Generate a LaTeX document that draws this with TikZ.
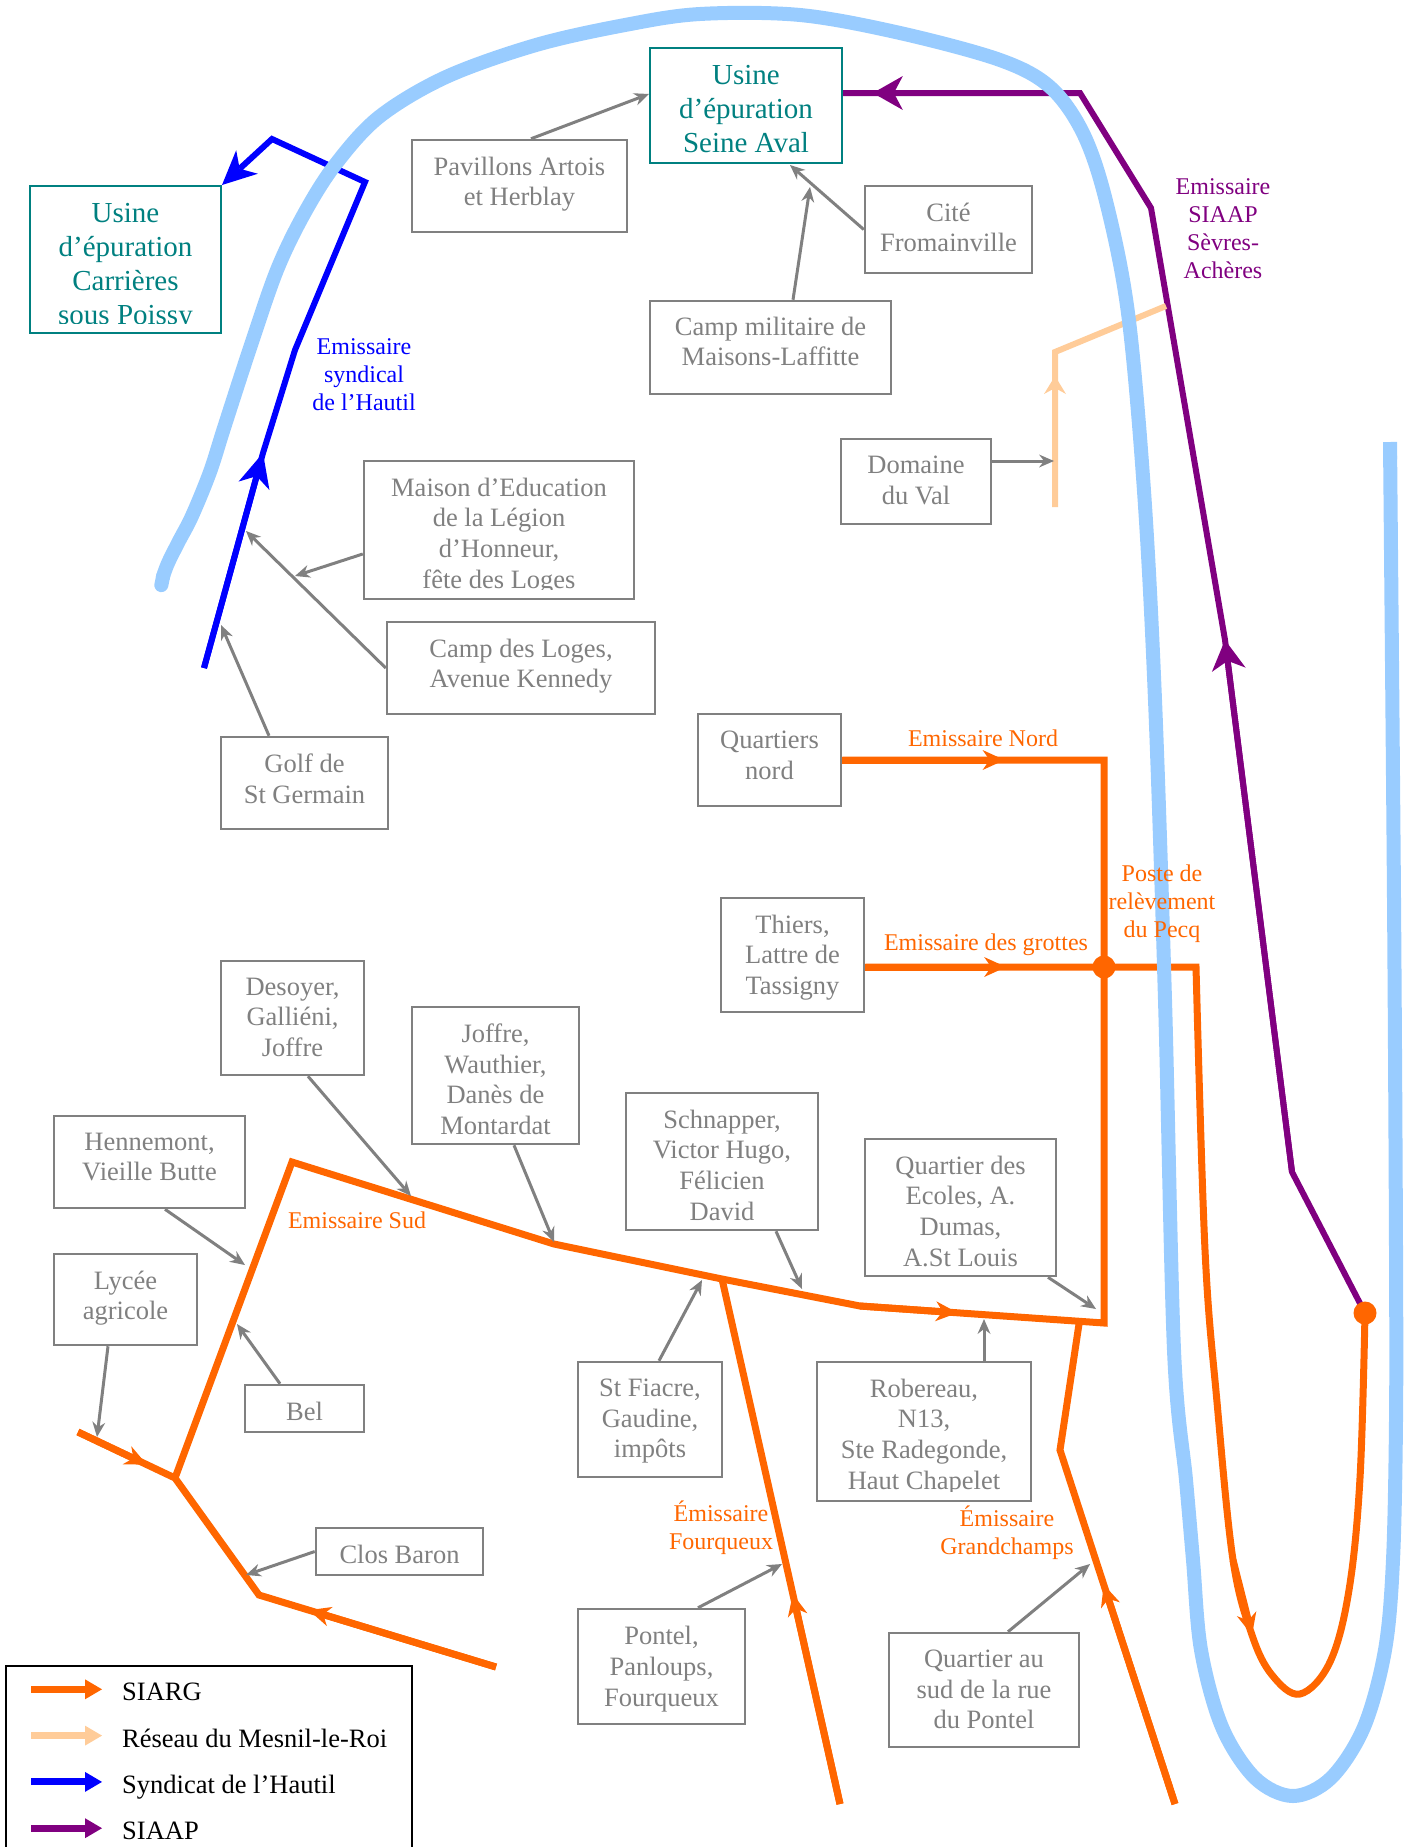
\documentclass[tikz,border=0pt]{standalone}
\usepackage{fontspec}
\setmainfont{Liberation Serif}
\usetikzlibrary{arrows.meta,calc}

\definecolor{siarg}{HTML}{FF6600}
\definecolor{mesnil}{HTML}{FFCC99}
\definecolor{hautil}{HTML}{0000FF}
\definecolor{siaap}{HTML}{800080}
\definecolor{seine}{HTML}{99CCFF}
\definecolor{usine}{HTML}{008080}
\definecolor{quartier}{HTML}{808080}

\newcommand\boxfont{\fontsize{26.5pt}{30.6pt}\selectfont}
\newcommand\usinefont{\fontsize{29pt}{34pt}\selectfont}
\newcommand\tagfont{\fontsize{24pt}{28pt}\selectfont}

\begin{document}
\begin{tikzpicture}[x=1pt,y=-1pt,
  quartier/.style={draw=quartier,line width=2.5pt,inner sep=0pt},
  qtext/.style={text=quartier,font=\boxfont,align=center,inner sep=0pt,anchor=north},
  usine/.style={draw=usine,line width=2pt,inner sep=0pt},
  utext/.style={text=usine,font=\usinefont,align=center,inner sep=0pt,anchor=north},
  feed/.style={draw=quartier,line width=3pt,-{Stealth[length=15pt,width=13pt,inset=5pt,line width=0pt]}},
  tag/.style={font=\tagfont,align=center,inner sep=0pt},
  siargline/.style={draw=siarg,line width=7pt},
  siargtip/.style={siargline,-{Stealth[length=22pt,width=20pt,inset=7pt,line width=0pt]}},
  hautilline/.style={draw=hautil,line width=6pt},
  hautiltip/.style={hautilline,-{Stealth[length=34pt,width=32pt,inset=10pt,line width=0pt]}},
  siaapline/.style={draw=siaap,line width=6pt},
  siaaptip/.style={siaapline,-{Stealth[length=30pt,width=34pt,inset=9pt,line width=0pt]}},
  mesnilline/.style={draw=mesnil,line width=6pt},
  mesniltip/.style={mesnilline,-{Stealth[length=18pt,width=22pt,inset=6pt,line width=0pt]}},
  seine/.style={draw=seine,line width=14pt}]
\useasboundingbox (0,0) rectangle (1407,1847);
%
\node[usine,minimum width=192pt,minimum height=115pt] (sav) at (746,105.5) {};
\node[utext] (savtext) at ([yshift=-17.8pt]sav.north) {Usine\\d’épuration\\Seine Aval};
\node[usine,minimum width=191pt,minimum height=147pt] (car) at (125.5,259.5) {};
\begin{scope}
\clip (car.north west) rectangle ([yshift=11pt]car.south east);
\node[utext] (cartext) at ([yshift=-17.8pt]car.north) {Usine\\d’épuration\\Carrières\\sous Poissy};
\end{scope}
%
\node[quartier,minimum width=215pt,minimum height=92pt] (pav) at (519.5,186) {};
\node[qtext] (pavtext) at ([yshift=-18pt]pav.north) {Pavillons Artois\\et Herblay};
\node[quartier,minimum width=167pt,minimum height=87pt] (cit) at (948.5,229.5) {};
\node[qtext] (cittext) at ([yshift=-18pt]cit.north) {Cité\\Fromainville};
\node[quartier,minimum width=241pt,minimum height=93pt] (cmi) at (770.5,347.5) {};
\node[qtext] (cmitext) at ([yshift=-17pt]cmi.north) {Camp militaire de\\Maisons-Laffitte};
\node[quartier,minimum width=150pt,minimum height=85pt] (dom) at (916,481.5) {};
\node[qtext] (domtext) at ([yshift=-18pt]dom.north) {Domaine\\du Val};
\node[quartier,minimum width=270pt,minimum height=138pt] (mai) at (499,530) {};
\begin{scope}
\clip (mai.north west) rectangle ([yshift=11pt]mai.south east);
\node[qtext] (maitext) at ([yshift=-18pt]mai.north) {Maison d’Education\\de la Légion\\d’Honneur,\\fête des Loges};
\end{scope}
\node[quartier,minimum width=268pt,minimum height=92pt] (log) at (521,668) {};
\node[qtext] (logtext) at ([yshift=-18pt]log.north) {Camp des Loges,\\Avenue Kennedy};
\node[quartier,minimum width=167pt,minimum height=92pt] (gol) at (304.5,783) {};
\node[qtext] (goltext) at ([yshift=-18pt]gol.north) {Golf de\\St Germain};
\node[quartier,minimum width=143pt,minimum height=92pt] (qno) at (769.5,760) {};
\node[qtext] (qnotext) at ([yshift=-18pt]qno.north) {Quartiers\\nord};
\node[quartier,minimum width=143pt,minimum height=114pt] (thi) at (792.5,955) {};
\node[qtext] (thitext) at ([yshift=-18pt]thi.north) {Thiers,\\Lattre de\\Tassigny};
\node[quartier,minimum width=143pt,minimum height=114pt] (des) at (292.5,1018) {};
\node[qtext] (destext) at ([yshift=-18pt]des.north) {Desoyer,\\Galliéni,\\Joffre};
\node[quartier,minimum width=167pt,minimum height=137pt] (jof) at (495.5,1075.5) {};
\node[qtext] (joftext) at ([yshift=-18pt]jof.north) {Joffre,\\Wauthier,\\Danès de\\Montardat};
\node[quartier,minimum width=192pt,minimum height=137pt] (sch) at (722,1161.5) {};
\node[qtext] (schtext) at ([yshift=-18pt]sch.north) {Schnapper,\\Victor Hugo,\\Félicien\\David};
\node[quartier,minimum width=191pt,minimum height=137pt] (eco) at (960.5,1207.5) {};
\node[qtext] (ecotext) at ([yshift=-18pt]eco.north) {Quartier des\\Ecoles, A.\\Dumas,\\A.St Louis};
\node[quartier,minimum width=191pt,minimum height=92pt] (hen) at (149.5,1162) {};
\node[qtext] (hentext) at ([yshift=-18pt]hen.north) {Hennemont,\\Vieille Butte};
\node[quartier,minimum width=143pt,minimum height=91pt] (lyc) at (125.5,1299.5) {};
\node[qtext] (lyctext) at ([yshift=-18pt]lyc.north) {Lycée\\agricole};
\node[quartier,minimum width=119pt,minimum height=47pt] (bel) at (304.5,1408.5) {};
\node[qtext] (beltext) at ([yshift=-18pt]bel.north) {Bel};
\node[quartier,minimum width=167pt,minimum height=47pt] (clo) at (399.5,1551.5) {};
\node[qtext] (clotext) at ([yshift=-18.5pt]clo.north) {Clos Baron};
\node[quartier,minimum width=144pt,minimum height=115pt] (stf) at (650,1419.5) {};
\node[qtext] (stftext) at ([yshift=-18pt]stf.north) {St Fiacre,\\Gaudine,\\impôts};
\node[quartier,minimum width=214pt,minimum height=139pt] (rob) at (924,1431.5) {};
\begin{scope}
\clip (rob.north west) rectangle ([yshift=11pt]rob.south east);
\node[qtext] (robtext) at ([yshift=-18pt]rob.north) {Robereau,\\N13,\\Ste Radegonde,\\Haut Chapelet};
\end{scope}
\node[quartier,minimum width=167pt,minimum height=115pt] (pon) at (661.5,1666.5) {};
\node[qtext] (pontext) at ([yshift=-18.5pt]pon.north) {Pontel,\\Panloups,\\Fourqueux};
\node[quartier,minimum width=190pt,minimum height=114pt] (qsu) at (984,1690) {};
\node[qtext] (qsutext) at ([yshift=-18pt]qsu.north) {Quartier au\\sud de la rue\\du Pontel};
%
\coordinate (sa) at (78,1432);
\coordinate (j) at (175,1478);
\coordinate (sb) at (259,1595);
\coordinate (sc) at (496,1667);
\coordinate (sd) at (292,1162);
\coordinate (se) at (554,1244);
\coordinate (sf) at (722,1279);
\coordinate (sg) at (860,1306);
\coordinate (sh) at (1104,1323);
\coordinate (pecq) at (1104,967);
\coordinate (nc) at (qno.east -| pecq);
\coordinate (gs) at (thi.east |- pecq);
\coordinate (gr) at (1196,967);
\coordinate (fq) at (840,1804);
\coordinate (gca) at (1175,1804);
\coordinate (gcb) at (1060,1450);
\coordinate (gcc) at (1079,1324);
\coordinate (rel) at (1365,1313);
\coordinate (lpa) at (1233,1560);
\coordinate (lpb) at (1252,1635);
%
\draw[siargline] (sa) -- (j) -- (sb) -- (sc);
\draw[siargline] (j) -- (sd) -- (se) -- (sf) -- (sg) -- (sh) -- (nc) -- (qno.east);
\draw[siargline] (fq) -- (sf);
\draw[siargline] (gca) -- (gcb) -- (gcc);
\draw[siargline] (gs) -- (gr) -- plot[smooth,tension=0.6] coordinates
  {(gr) (1205,1250) (1217,1402) (lpa) (lpb) (1272,1675) (1300,1694) (1330,1662) (1349,1590) (1360,1478) (rel)};
\draw[siargtip] (sa) -- ($(sa)!0.71!(j)$);
\draw[siargtip] (sc) -- ($(sc)!0.79!(sb)$);
\draw[siargtip] (sg) -- ($(sg)!0.4!(sh)$);
\draw[siargtip] (qno.east) -- ($(qno.east)!0.62!(nc)$);
\draw[siargtip] (gs) -- ($(gs)!0.59!(pecq)$);
\draw[siargtip] (fq) -- ($(fq)!0.4!(sf)$);
\draw[siargtip] (gca) -- ($(gca)!0.62!(gcb)$);
\draw[siargtip] (lpa) -- (lpb);
%
\coordinate (pb) at (1292,1172);
\coordinate (pm) at (1225,640);
\coordinate (pc) at (1151,208);
\coordinate (pd) at (1080,93);
\coordinate (pe) at (sav.east |- pd);
\draw[siaapline] (rel) -- (pb) -- (pm) -- (pc) -- (pd) -- (pe);
\draw[siaaptip] (pb) -- (pm);
\draw[siaaptip] (pd) -- ($(pd)!0.874!(pe)$);
%
\coordinate (ba) at (204,668);
\coordinate (bm) at (263,453);
\coordinate (bb) at (295,350);
\coordinate (bc) at (365,182);
\coordinate (bd) at (272,139);
\draw[hautiltip] (ba) -- (bm) -- (bb) -- (bc) -- (bd) -- (car.north east);
\draw[hautiltip] (ba) -- (bm);
%
\coordinate (ma) at (1055,507);
\coordinate (mb) at (1055,352);
\coordinate (mc) at (1166,306);
\draw[mesnilline] (ma) -- (mb) -- (mc);
\draw[mesniltip] (ma) -- ($(ma)!0.845!(mb)$);
%
\coordinate (pavt) at (649,94);
\coordinate (citt) at (790,165);
\coordinate (cmit) at (810,187);
\coordinate (domt) at (1054,461);
\coordinate (mait) at (295,576);
\coordinate (logt) at (246,531);
\coordinate (golt) at (221,625);
\coordinate (dest) at (411,1196);
\coordinate (joft) at (554,1242);
\coordinate (scht) at (802,1289);
\coordinate (ecot) at (1096,1309);
\coordinate (hent) at (245,1265);
\coordinate (lyct) at (97,1437);
\coordinate (belt) at (237,1324);
\coordinate (clot) at (246,1575);
\coordinate (stft) at (702,1280);
\coordinate (robt) at (984,1319);
\coordinate (pont) at (782,1564);
\coordinate (qsut) at (1090,1564);
\draw[feed] ([xshift=11.5pt]pav.north) -- (pavt);
\draw[feed] (cit.west) -- (citt);
\draw[feed] ([xshift=22.5pt]cmi.north) -- (cmit);
\draw[feed] ([yshift=20.5pt]dom.east) -- (domt);
\draw[feed] ([yshift=-24pt]mai.west) -- (mait);
\draw[feed] (log.west) -- (logt);
\draw[feed] ([xshift=-35.5pt]gol.north) -- (golt);
\draw[feed] ([xshift=15.5pt]des.south) -- (dest);
\draw[feed] ([xshift=18.5pt]jof.south) -- (joft);
\draw[feed] ([xshift=54pt]sch.south) -- (scht);
\draw[feed] ([xshift=87.5pt]eco.south) -- (ecot);
\draw[feed] ([xshift=15.5pt]hen.south) -- (hent);
\draw[feed] ([xshift=-17.5pt]lyc.south) -- (lyct);
\draw[feed] ([xshift=-24.5pt]bel.north) -- (belt);
\draw[feed] (clo.west) -- (clot);
\draw[feed] ([xshift=9pt]stf.north) -- (stft);
\draw[feed] ([xshift=60pt]rob.north) -- (robt);
\draw[feed] ([xshift=36.5pt]pon.north) -- (pont);
\draw[feed] ([xshift=24pt]qsu.north) -- (qsut);
%
\draw[seine,{Round Cap}-{Butt Cap}] plot[smooth,tension=0.55] coordinates
  {(160,592) (166,568) (178,543) (192,516) (210,472) (224,428) (250,348) (277,270) (304,214)
   (335,165) (379,117) (446,77) (536,45) (625,25) (700,14) (800,15) (900,33) (1000,60)
   (1050,87) (1083,133) (1106,201) (1128,313) (1144,491) (1155,700) (1165,1000) (1174,1350)
   (1186,1480) (1193,1560) (1201,1650) (1222,1727) (1255,1778) (1293,1796) (1331,1778)
   (1364,1727) (1385,1650) (1393,1560) (1396,1420) (1396,1250) (1394,900) (1390,442)};
%
\node[tag,text=hautil] (lhautil) at (364,375) {Emissaire\\syndical\\de l’Hautil};
\node[tag,text=siaap] (lsiaap) at (1223,229) {Emissaire\\SIAAP\\Sèvres-\\Achères};
\node[tag,text=siarg] (lnord) at (983,738) {Emissaire Nord};
\node[tag,text=siarg] (lgrottes) at (986,945) {Emissaire des grottes};
\node[tag,text=siarg] (lpecq) at (1162,904) {Poste de\\relèvement\\du Pecq};
\node[tag,text=siarg] (lsud) at (357,1220) {Emissaire Sud};
\node[tag,text=siarg] (lfourqueux) at (721,1528) {Émissaire\\Fourqueux};
\node[tag,text=siarg] (lgrandchamps) at (1007,1533) {Émissaire\\Grandchamps};
%
\fill[siarg] (pecq) circle[radius=11.5pt];
\fill[siarg] (rel) circle[radius=11.5pt];
%
\draw[line width=2pt] (6,1847) -- (6,1666) -- (412,1666) -- (412,1847);
\foreach \col/\txt [count=\i] in {siarg/SIARG, mesnil/Réseau du Mesnil-le-Roi, hautil/Syndicat de l’Hautil, siaap/SIAAP} {
  \coordinate (key\i) at (31,1643+46.3*\i);
  \draw[line width=7pt,draw=\col,-{Triangle[length=17pt,width=20pt,line width=0pt]}] (key\i) -- ++(71,0);
  \node[anchor=base west,font=\boxfont,inner sep=0pt] (keytext\i) at (122,1654.5+46.3*\i) {\txt};
}
\end{tikzpicture}
\end{document}
